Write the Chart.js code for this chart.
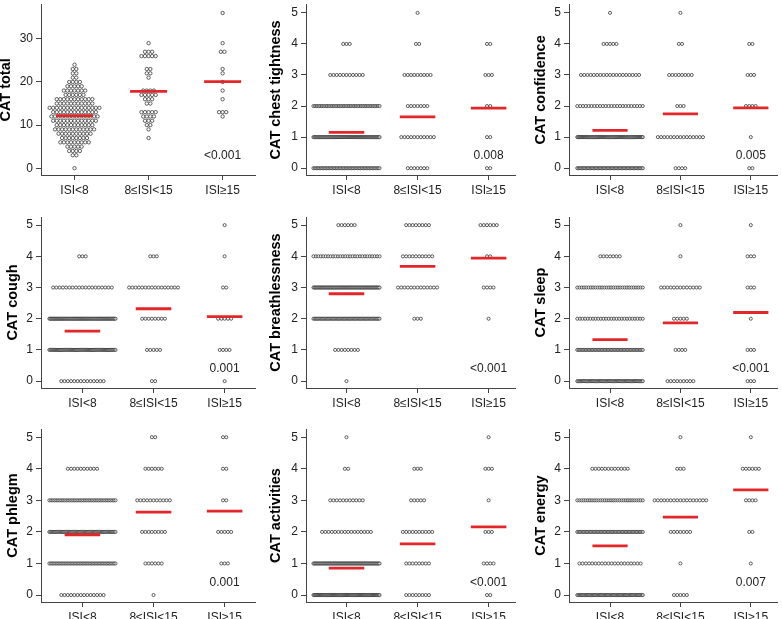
<!DOCTYPE html>
<html>
<head>
<meta charset="utf-8">
<title>CAT scores by ISI group</title>
<script src="https://cdn.jsdelivr.net/npm/chart.js@4.4.1/dist/chart.umd.min.js"></script>
<style>
  html, body { margin: 0; padding: 0; background: #fff; overflow: hidden; }
  body { width: 782px; height: 619px; position: relative; }
  canvas { position: absolute; }
</style>
</head>
<body>
<script>
// ---- data ----
const groups = ['ISI<8', '8≤ISI<15', 'ISI≥15'];
const panelTitles = ['CAT total', 'CAT chest tightness', 'CAT confidence',
                     'CAT cough', 'CAT breathlessness', 'CAT sleep',
                     'CAT phlegm', 'CAT activities', 'CAT energy'];
const pValues = ['<0.001', '0.008', '0.005', '0.001', '<0.001', '<0.001', '0.001', '<0.001', '0.007'];

// group means (red bars), one row per panel
const meanValues = [
  [12.2, 17.8, 20.1],
  [1.15, 1.65, 1.93],
  [1.22, 1.75, 1.94],
  [1.6, 2.32, 2.07],
  [2.8, 3.68, 3.94],
  [1.33, 1.87, 2.2],
  [1.91, 2.63, 2.66],
  [0.85, 1.62, 2.16],
  [1.56, 2.47, 3.33]
];

// CAT total: scores seen and number of patients at each score, per group
const totalScores = [
  [0, 3, 4, 5, 6, 7, 8, 9, 10, 11, 12, 13, 14, 15, 16, 17, 18, 19, 20, 21, 22, 23, 24],
  [7, 9, 10, 11, 12, 13, 15, 16, 17, 18, 21, 22, 23, 26, 27, 29],
  [12, 13, 16, 18, 20, 22, 23, 27, 29, 36]
];
const totalCounts = [
  [1, 2, 4, 5, 9, 8, 10, 12, 11, 13, 14, 13, 15, 11, 11, 6, 7, 5, 4, 2, 2, 2, 1],
  [1, 1, 2, 3, 4, 5, 2, 3, 5, 4, 1, 2, 2, 5, 3, 1],
  [1, 3, 1, 1, 1, 1, 1, 2, 1, 1]
];

// item scores 0..5, patients per score for ISI<8, 8≤ISI<15, ISI≥15
const itemScores = [0, 1, 2, 3, 4, 5];
const chestCounts = [[46, 68, 40, 11, 3, 0], [7, 11, 7, 9, 2, 1], [2, 2, 2, 3, 2, 0]];
const confidenceCounts = [[50, 70, 24, 19, 5, 1], [4, 15, 3, 8, 2, 1], [2, 1, 4, 3, 2, 0]];
const coughCounts = [[14, 63, 70, 19, 3, 0], [2, 5, 8, 16, 3, 0], [1, 4, 5, 2, 1, 1]];
const breathCounts = [[1, 8, 55, 70, 28, 6], [0, 0, 3, 13, 10, 8], [0, 0, 1, 4, 2, 6]];
const sleepCounts = [[59, 46, 26, 30, 7, 0], [9, 4, 5, 13, 1, 1], [3, 3, 1, 3, 3, 1]];
const phlegmCounts = [[14, 45, 59, 40, 10, 0], [1, 6, 8, 11, 6, 2], [0, 3, 5, 2, 2, 2]];
const activityCounts = [[72, 66, 16, 11, 2, 1], [8, 8, 10, 5, 3, 0], [2, 4, 3, 1, 3, 1]];
const energyCounts = [[56, 20, 48, 32, 12, 0], [5, 1, 7, 17, 3, 1], [0, 1, 2, 4, 6, 1]];

const itemCounts = [null, chestCounts, confidenceCounts, coughCounts, breathCounts,
                    sleepCounts, phlegmCounts, activityCounts, energyCounts];

const totalTicks = [0, 10, 20, 30];
const itemTicks = [0, 1, 2, 3, 4, 5];

// ---- layout ----
const FONT = '"Liberation Sans", Arial, Helvetica, sans-serif';
const AXIS = '#444';
const RED = '#e3262a';
Chart.defaults.font.family = FONT;

const cols = [
  { left: 0, width: 260, axisW: 41, padR: 2, xMin: -0.583, xMax: 2.43, titleX: 12.7 },
  { left: 260, width: 260, axisW: 46, padR: 2, xMin: -0.57, xMax: 2.374, titleX: 16 },
  { left: 520, width: 262, axisW: 49, padR: 0, xMin: -0.583, xMax: 2.375, titleX: 21 }
];
const rows = [
  { top: 0, padT: 3, bottom: 175 },
  { top: 205, padT: 12, bottom: 183 },
  { top: 410, padT: 19, bottom: 192 }
];

/**
 * Spread the patients of one group into horizontal rows (simple beeswarm)
 */
function swarm(scores, counts, groupIndex, pxPerUnit, spacing, maxSpan) {
  const pts = [];
  scores.forEach((s, k) => {
    const n = counts[k];
    if (!n) return;
    let step = spacing;
    if (n > 1 && (n - 1) * step > maxSpan) step = maxSpan / (n - 1);
    for (let j = 0; j < n; j++) {
      const off = (j - (n - 1) / 2) * step;
      pts.push({ x: groupIndex + off / pxPerUnit, y: s });
    }
  });
  return pts;
}

const pValuePlugin = {
  id: 'pValue',
  afterDraw(chart, args, opts) {
    const { ctx, chartArea, scales } = chart;
    ctx.save();
    ctx.font = '12px ' + FONT;
    ctx.fillStyle = '#222';
    ctx.textAlign = 'center';
    ctx.textBaseline = 'middle';
    ctx.fillText(opts.text, scales.x.getPixelForValue(2), chartArea.bottom - 19);
    ctx.restore();
  }
};

function drawPanel(i) {
  const col = Object.assign({}, cols[i % 3]);
  const row = Object.assign({}, rows[Math.floor(i / 3)]);
  const isTotal = i === 0;
  let yMin = -0.22, yMax = 5.26, yTicks = itemTicks;
  let radius = 1.55, spacing = 3.3;
  if (isTotal) {
    row.padT = 0;
    col.xMin = -0.453; col.xMax = 2.44; col.titleX = 6;
    yMin = -1.58; yMax = 37.9; yTicks = totalTicks;
    radius = 1.7; spacing = 3.6;
  }

  const canvas = document.createElement('canvas');
  canvas.width = col.width;
  canvas.height = row.bottom + 30;
  canvas.style.left = col.left + 'px';
  canvas.style.top = row.top + 'px';
  document.body.appendChild(canvas);

  const plotW = col.width - col.axisW - col.padR;
  const pxPerUnit = plotW / (col.xMax - col.xMin);

  const datasets = [];
  groups.forEach((g, gi) => {
    const m = meanValues[i][gi];
    datasets.push({
      type: 'line',
      data: [{ x: gi - 0.25, y: m }, { x: gi + 0.25, y: m }],
      borderColor: RED,
      borderWidth: 2.8,
      pointRadius: 0,
      fill: false,
      order: 0
    });
  });
  groups.forEach((g, gi) => {
    const scores = isTotal ? totalScores[gi] : itemScores;
    const counts = isTotal ? totalCounts[gi] : itemCounts[i][gi];
    datasets.push({
      type: 'scatter',
      label: g,
      data: swarm(scores, counts, gi, pxPerUnit, spacing, 67),
      pointRadius: radius,
      pointBorderWidth: 0.8,
      pointBorderColor: '#383838',
      pointBackgroundColor: 'rgba(255,255,255,0.5)',
      order: 1
    });
  });

  const tickFont = { size: 12, family: FONT };
  new Chart(canvas, {
    type: 'scatter',
    data: { datasets: datasets },
    options: {
      responsive: false,
      animation: false,
      devicePixelRatio: 1,
      events: [],
      layout: { padding: { left: 0, right: col.padR, top: row.padT, bottom: 0 } },
      plugins: {
        legend: { display: false },
        tooltip: { enabled: false },
        pValue: { text: pValues[i] }
      },
      scales: {
        x: {
          type: 'linear',
          min: col.xMin,
          max: col.xMax,
          afterBuildTicks: s => { s.ticks = groups.map((g, gi) => ({ value: gi })); },
          afterFit: s => { s.height = 30; s.paddingLeft = 0; s.paddingRight = 0; },
          ticks: { callback: v => groups[v], font: tickFont, color: '#222', padding: 3, maxRotation: 0, autoSkip: false },
          grid: { drawOnChartArea: false, drawTicks: true, tickLength: 5, color: AXIS },
          border: { color: AXIS, width: 1 }
        },
        y: {
          type: 'linear',
          min: yMin,
          max: yMax,
          afterBuildTicks: s => { s.ticks = yTicks.map(v => ({ value: v })); },
          afterFit: s => { s.width = col.axisW; s.paddingTop = 0; s.paddingBottom = 0; },
          ticks: { font: tickFont, color: '#222', padding: 3 },
          grid: { drawOnChartArea: false, drawTicks: true, tickLength: 5, color: AXIS },
          border: { color: AXIS, width: 1 },
          title: {
            display: true,
            text: panelTitles[i],
            color: '#000',
            font: { size: 14.5, weight: 'bold', family: FONT, lineHeight: 1 },
            padding: { top: col.titleX - 7.25, bottom: 0 }
          }
        }
      }
    },
    plugins: [pValuePlugin]
  });
}

for (let i = 0; i < 9; i++) drawPanel(i);
</script>
</body>
</html>
